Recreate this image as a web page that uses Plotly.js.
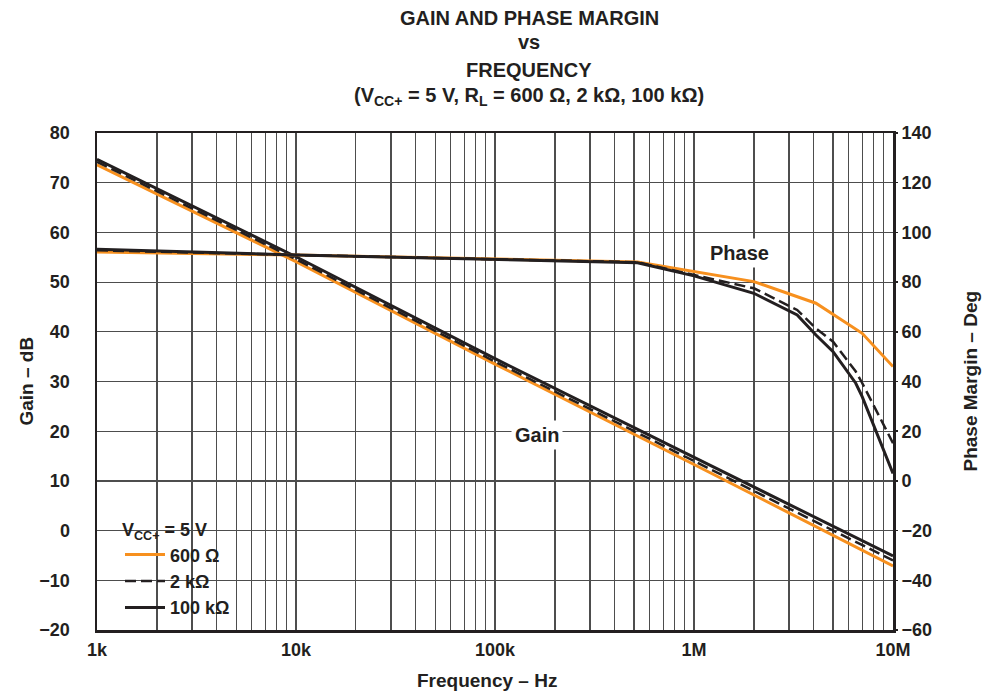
<!DOCTYPE html>
<html>
<head>
<meta charset="utf-8">
<script src="https://cdn.plot.ly/plotly-3.0.1.min.js"></script>
<style>html,body{margin:0;padding:0;background:#fff;}#chart{width:985px;height:696px;}</style>
</head>
<body>
<div id="chart"></div>
<script>
// ---- data ----
const gainFreq = [1e3, 1e4, 1e5, 1e6, 1e7];
const gain600 = [73.6, 54.1, 33.5, 13.3, -7.1];
const gain2k = [74.2, 54.6, 34.0, 14.0, -6.0];
const gain100k = [74.7, 55.1, 34.6, 14.8, -5.1];

const phaseFreq600 = [1e3, 1e4, 5.2e5, 2e6, 4.1e6, 7e6, 1e7];
const phase600 = [92.1, 90.9, 88.1, 80.2, 71.5, 59.4, 46];
const phaseFreq = [1e3, 1e4, 5.2e5, 1e6, 2e6, 3.3e6, 4.1e6, 5e6, 6.5e6, 7e6, 1e7];
const phase2k = [92.8, 90.9, 88.0, 83.0, 77.5, 68.8, 61.4, 56, 44, 39.4, 15.2];
const phase100k = [93.2, 90.9, 87.8, 82.5, 75.5, 66.8, 58.7, 52, 39.3, 33.9, 3];

const seriesNames = ['600 Ω', '2 kΩ', '100 kΩ'];
const decadeVals = [1e3, 1e4, 1e5, 1e6, 1e7];
const decadeLabels = ['1k', '10k', '100k', '1M', '10M'];
const gainTicks = [-20, -10, 0, 10, 20, 30, 40, 50, 60, 70, 80];
const phaseTicks = [-60, -40, -20, 0, 20, 40, 60, 80, 100, 120, 140];

// minor x grid: 2..9 multiples within each decade
const xMinorVals = [];
for (let d = 0; d < 4; d++) {
  for (let m = 2; m <= 9; m++) xMinorVals.push(m * Math.pow(10, 3 + d));
}

const ORANGE = '#f7901e';
const DARK = '#231f20';
const GRID = '#4d4d4d';
const FONT = 'Liberation Sans, Arial, sans-serif';

const styles = [
  {color: ORANGE, width: 3, dash: 'solid'},
  {color: DARK, width: 2.5, dash: '11px,5px'},
  {color: DARK, width: 3, dash: 'solid'}
];

const gains = [gain600, gain2k, gain100k];
const phases = [phase600, phase2k, phase100k];
const phaseFreqs = [phaseFreq600, phaseFreq, phaseFreq];

const traces = [];
for (let i = 0; i < 3; i++) {
  traces.push({
    x: gainFreq, y: gains[i], type: 'scatter', mode: 'lines',
    name: seriesNames[i], legendgroup: 'g' + i, showlegend: true,
    line: styles[i], xaxis: 'x', yaxis: 'y'
  });
  traces.push({
    x: phaseFreqs[i], y: phases[i], type: 'scatter', mode: 'lines',
    name: seriesNames[i], legendgroup: 'g' + i, showlegend: false,
    line: styles[i], xaxis: 'x', yaxis: 'y2'
  });
}

const f = (size) => ({family: FONT, size: size, color: DARK, weight: 'bold'});
const px = (x) => (x - 97) / 796;
const py = (y) => (630 - y) / 497;

const layout = {
  width: 985, height: 696,
  margin: {l: 97, r: 92, t: 133, b: 66},
  paper_bgcolor: '#fff', plot_bgcolor: '#fff',
  showlegend: true,
  legend: {
    x: px(120), y: py(513), xanchor: 'left', yanchor: 'top',
    bgcolor: 'rgba(255,255,255,0)', borderwidth: 0,
    font: f(18),
    title: {text: 'V<sub>CC+</sub> = 5 V', font: f(18)},
    tracegroupgap: 0, itemwidth: 40
  },
  shapes: [{
    type: 'rect', xref: 'paper', yref: 'paper', layer: 'below',
    x0: px(107), x1: px(255), y0: py(617), y1: py(513),
    fillcolor: '#fff', line: {width: 0}
  }],
  xaxis: {
    type: 'log', range: [3, 7],
    tickmode: 'array', tickvals: decadeVals, ticktext: decadeLabels, tickangle: 0,
    ticks: '', showgrid: true, gridcolor: GRID, gridwidth: 1.2,
    minor: {tickmode: 'array', tickvals: xMinorVals, showgrid: true, gridcolor: GRID, gridwidth: 1.2, ticks: ''},
    showline: true, mirror: true, linecolor: DARK, linewidth: 2.5,
    tickfont: f(18), ticklabelstandoff: 2, zeroline: false
  },
  yaxis: {
    range: [-20, 80], tickmode: 'array', tickvals: gainTicks,
    ticktext: gainTicks.map(v => v < 0 ? '\u2212' + Math.abs(v) : String(v)),
    ticks: '', showgrid: true, gridcolor: GRID, gridwidth: 1.2,
    showline: true, mirror: true, linecolor: DARK, linewidth: 2.5,
    tickfont: f(18), ticklabelstandoff: 21, zeroline: false
  },
  yaxis2: {
    range: [-60, 140], tickmode: 'array', tickvals: phaseTicks,
    ticktext: phaseTicks.map(v => v < 0 ? '\u2212' + Math.abs(v) : String(v)),
    overlaying: 'y', side: 'right', showgrid: false, zeroline: false,
    ticks: 'outside', ticklen: 4, tickcolor: DARK, tickwidth: 1.5,
    tickfont: f(18), ticklabelstandoff: 0
  },
  annotations: [
    {text: 'GAIN AND PHASE MARGIN', y: 18},
    {text: 'vs', y: 42},
    {text: 'FREQUENCY', y: 70},
    {text: '(V<sub>CC+</sub> = 5 V, R<sub>L</sub> = 600 Ω, 2 kΩ, 100 kΩ)', y: 97}
  ].map(a => ({
    text: a.text, showarrow: false, xref: 'paper', yref: 'paper',
    x: px(529), y: py(a.y), xanchor: 'center', yanchor: 'middle',
    font: f(20)
  })).concat([
    {text: 'Gain \u2013 dB', textangle: -90, showarrow: false, xref: 'paper', yref: 'paper',
     x: px(26), y: 0.5, xanchor: 'center', yanchor: 'middle', font: f(19)},
    {text: 'Phase Margin \u2013 Deg', textangle: -90, showarrow: false, xref: 'paper', yref: 'paper',
     x: px(970), y: 0.5, xanchor: 'center', yanchor: 'middle', font: f(19)},
    {text: 'Frequency \u2013 Hz', showarrow: false, xref: 'paper', yref: 'paper',
     x: px(487), y: py(680), xanchor: 'center', yanchor: 'middle', font: f(19)},
    {text: 'Phase', showarrow: false, xref: 'paper', yref: 'paper',
     x: px(739), y: py(253), xanchor: 'center', yanchor: 'middle',
     bgcolor: '#fff', borderpad: 3, font: f(20)},
    {text: 'Gain', showarrow: false, xref: 'paper', yref: 'paper',
     x: px(537), y: py(435), xanchor: 'center', yanchor: 'middle',
     bgcolor: '#fff', borderpad: 3, font: f(20)}
  ])
};

Plotly.newPlot('chart', traces, layout, {displayModeBar: false, staticPlot: true});
</script>
</body>
</html>
